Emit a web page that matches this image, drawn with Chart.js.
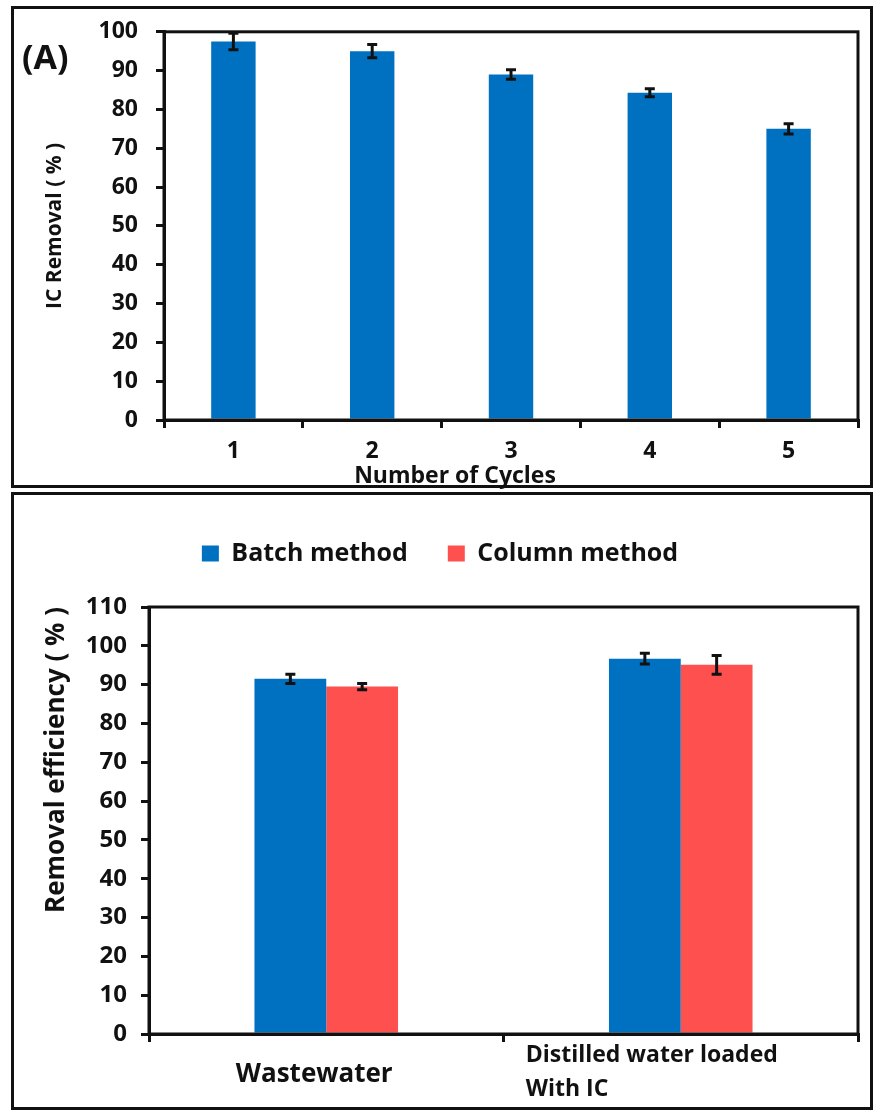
<!DOCTYPE html>
<html>
<head>
<meta charset="utf-8">
<title>IC removal</title>
<script src="https://cdn.jsdelivr.net/npm/chart.js@4.4.1/dist/chart.umd.min.js"></script>
<style>
  html, body { margin: 0; padding: 0; background: #fff; }
  body { width: 875px; height: 1112px; position: relative; overflow: hidden; }
  .panel { position: absolute; border: 3px solid #111; box-sizing: border-box; }
  #panelA { left: 11px; top: 6px; width: 862px; height: 482px; }
  #panelB { left: 11px; top: 492px; width: 862px; height: 618px; }
  canvas { position: absolute; left: 0; }
  #chartA { top: 0; }
  #chartB { top: 493px; }
  #tagA { position: absolute; left: 22px; top: 33px; font: bold 34px "Open Sans", sans-serif; color: #111; }
</style>
</head>
<body>
<div class="panel" id="panelA"></div>
<div class="panel" id="panelB"></div>
<canvas id="chartA" width="875" height="490"></canvas>
<canvas id="chartB" width="875" height="619"></canvas>
<div id="tagA">(A)</div>
<script>
// panel A: reuse cycles
const cycles = ['1', '2', '3', '4', '5'];
const cycleRemoval = [97.5, 95.0, 89.0, 84.3, 75.0];
const cycleRemovalErr = [2.1, 1.7, 1.2, 1.0, 1.3];

// panel B: batch vs column
const waterTypes = ['Wastewater', 'Distilled water loaded With IC'];
const waterTypeLines = [['Wastewater'], ['Distilled water loaded', 'With IC']];
const batchEff = [91.5, 96.7];
const batchErr = [1.2, 1.4];
const columnEff = [89.5, 95.1];
const columnErr = [0.8, 2.4];

const BLUE = '#0070C0';
const RED = '#FF5050';
const FONT = '"Open Sans", sans-serif';

Chart.defaults.font.family = FONT;
Chart.defaults.color = '#111';

const errorBars = {
  id: 'errorBars',
  afterDatasetsDraw(chart) {
    const { ctx } = chart;
    const y = chart.scales.y;
    ctx.save();
    ctx.strokeStyle = '#111';
    ctx.lineWidth = 3;
    chart.data.datasets.forEach((ds, i) => {
      if (!ds.errors) return;
      chart.getDatasetMeta(i).data.forEach((bar, j) => {
        const top = y.getPixelForValue(ds.data[j] + ds.errors[j]);
        const bot = y.getPixelForValue(ds.data[j] - ds.errors[j]);
        ctx.beginPath();
        ctx.moveTo(bar.x, top); ctx.lineTo(bar.x, bot);
        ctx.moveTo(bar.x - 5, top); ctx.lineTo(bar.x + 5, top);
        ctx.moveTo(bar.x - 5, bot); ctx.lineTo(bar.x + 5, bot);
        ctx.stroke();
      });
    });
    ctx.restore();
  }
};

const frame = {
  id: 'frame',
  afterDraw(chart) {
    const { ctx, chartArea: a } = chart;
    ctx.save();
    ctx.strokeStyle = '#111';
    ctx.lineWidth = 3;
    ctx.strokeRect(a.left, a.top, a.right - a.left, a.bottom - a.top);
    ctx.restore();
  }
};

function axisGrid() {
  return { drawOnChartArea: false, drawTicks: true, tickLength: 8, lineWidth: 3, color: '#111' };
}

// x title of panel A sits left of the axis centre in the original
const cyclesTitle = {
  id: 'cyclesTitle',
  afterDraw(chart) {
    const { ctx, chartArea: a } = chart;
    ctx.save();
    ctx.font = 'bold 23px ' + FONT;
    ctx.fillStyle = '#111';
    ctx.textAlign = 'center';
    ctx.textBaseline = 'middle';
    ctx.fillText('Number of Cycles', (a.left + a.right) / 2 - 56, a.bottom + 56);
    ctx.restore();
  }
};

new Chart(document.getElementById('chartA'), {
  type: 'bar',
  data: {
    labels: cycles,
    datasets: [{
      data: cycleRemoval,
      errors: cycleRemovalErr,
      backgroundColor: BLUE,
      categoryPercentage: 1,
      barPercentage: 0.32
    }]
  },
  options: {
    responsive: false,
    animation: false,
    layout: { padding: { top: 31, right: 17, left: 0, bottom: 0 } },
    plugins: { legend: { display: false }, tooltip: { enabled: false } },
    scales: {
      x: {
        grid: axisGrid(),
        border: { display: true, width: 3, color: '#111' },
        ticks: { font: { size: 23, weight: 'bold' }, padding: 10 },
        afterFit: s => { s.height = 70; }
      },
      y: {
        min: 0, max: 100,
        grid: axisGrid(),
        border: { display: true, width: 3, color: '#111' },
        ticks: { stepSize: 10, font: { size: 23, weight: 'bold' }, padding: 18 },
        title: { display: true, text: 'IC Removal ( % )', font: { size: 21, weight: 'bold' }, padding: { top: 42, bottom: 0 } },
        afterFit: s => { s.width = 164; }
      }
    }
  },
  plugins: [errorBars, frame, cyclesTitle]
});

const groupLabels = {
  id: 'groupLabels',
  afterDraw(chart) {
    const { ctx } = chart;
    const x = chart.scales.x;
    const base = chart.chartArea.bottom;
    ctx.save();
    ctx.fillStyle = '#111';
    ctx.textBaseline = 'middle';
    waterTypeLines.forEach((lines, i) => {
      const cx = x.getPixelForValue(i);
      if (lines.length === 1) {
        ctx.font = 'bold 26px ' + FONT;
        ctx.textAlign = 'center';
        ctx.fillText(lines[0], cx - 12, base + 41);
      } else {
        ctx.font = 'bold 23px ' + FONT;
        ctx.textAlign = 'left';
        const w = ctx.measureText(lines[0]).width;
        lines.forEach((ln, k) => ctx.fillText(ln, cx - w / 2 - 29, base + 21 + k * 34));
      }
    });
    ctx.restore();
  }
};

// taller legend box so the plot starts lower, and nudge the items right
const legendSpace = {
  id: 'legendSpace',
  beforeInit(chart) {
    const fit = chart.legend.fit;
    chart.legend.fit = function () {
      fit.call(this);
      this.height = 106;
    };
  },
  afterLayout(chart) {
    chart.legend.left += 11;
    chart.legend.right += 11;
  }
};

new Chart(document.getElementById('chartB'), {
  type: 'bar',
  data: {
    labels: waterTypes,
    datasets: [
      { label: 'Batch method', data: batchEff, errors: batchErr, backgroundColor: BLUE, categoryPercentage: 0.405, barPercentage: 1 },
      { label: 'Column method', data: columnEff, errors: columnErr, backgroundColor: RED, categoryPercentage: 0.405, barPercentage: 1 }
    ]
  },
  options: {
    responsive: false,
    animation: false,
    layout: { padding: { top: 8, right: 17, left: 0, bottom: 0 } },
    plugins: {
      tooltip: { enabled: false },
      legend: {
        position: 'top',
        labels: { boxWidth: 17, boxHeight: 16, padding: 40, font: { size: 25, weight: 'bold' }, color: '#111' }
      }
    },
    scales: {
      x: {
        grid: axisGrid(),
        border: { display: true, width: 3, color: '#111' },
        ticks: { display: false },
        afterFit: s => { s.height = 78; }
      },
      y: {
        min: 0, max: 110,
        grid: axisGrid(),
        border: { display: true, width: 3, color: '#111' },
        ticks: { stepSize: 10, font: { size: 24, weight: 'bold' }, padding: 14 },
        title: { display: true, text: 'Removal efficiency ( % )', align: 'end', font: { size: 26, weight: 'bold' }, padding: { top: 41, bottom: 0 } },
        afterFit: s => { s.width = 149; }
      }
    }
  },
  plugins: [errorBars, frame, groupLabels, legendSpace]
});
</script>
</body>
</html>
